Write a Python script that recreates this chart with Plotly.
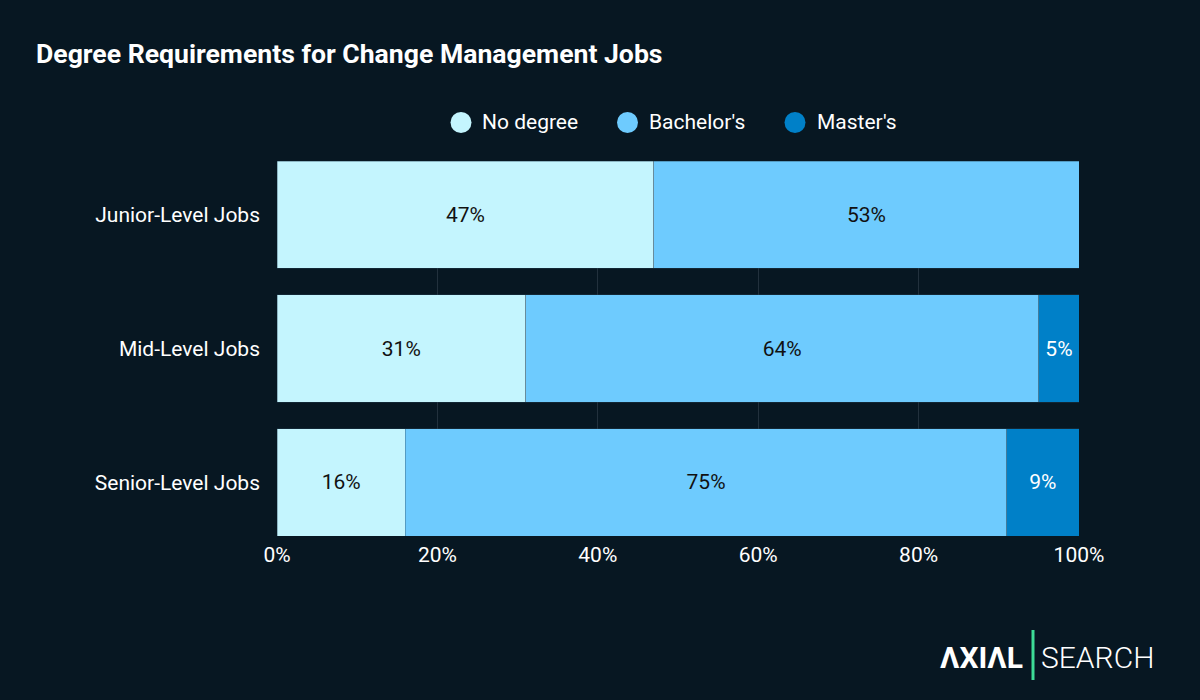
import plotly.graph_objects as go

categories = ["Junior-Level Jobs", "Mid-Level Jobs", "Senior-Level Jobs"]
no_degree = [47, 31, 16]
bachelors = [53, 64, 75]
masters = [0, 5, 9]
series_names = ["No degree", "Bachelor's", "Master's"]
colors = ["#c4f5fe", "#6ecbfe", "#0080c8"]
text_colors = ["#111111", "#111111", "#ffffff"]
tick_vals = [0, 20, 40, 60, 80, 100]
tick_text = ["0%", "20%", "40%", "60%", "80%", "100%"]

BG = "#071722"
FONT = "Roboto"
W, H = 1200, 700
L, R, T, B = 277, 121, 161, 164
PW, PH = W - L - R, H - T - B


def px(x):
    return (x - L) / PW


def py(y):
    return 1 - (y - T) / PH


fig = go.Figure()
for name, vals, col, tcol in zip(series_names, [no_degree, bachelors, masters], colors, text_colors):
    fig.add_trace(go.Bar(
        y=categories, x=vals, orientation="h", name=name,
        marker=dict(color=col, line=dict(width=0.6, color="rgba(40,70,90,0.6)")),
        text=[f"{v}%" if v > 0 else "" for v in vals],
        textposition="inside", insidetextanchor="middle",
        textfont=dict(color=tcol, size=21, family=FONT),
        showlegend=False, hoverinfo="x+name",
    ))

# legend drawn as circles + labels
legend_circle_cx = [461, 627.5, 795]
legend_text_x = [480, 647, 815]
shapes = []
annotations = []
for name, col, cx, tx in zip(series_names, colors, legend_circle_cx, legend_text_x):
    shapes.append(dict(type="circle", xref="paper", yref="paper",
                       x0=px(cx - 10.5), x1=px(cx + 10.5), y0=py(133), y1=py(112),
                       fillcolor=col, line=dict(width=0)))
    annotations.append(dict(text=name, xref="paper", yref="paper", x=px(tx), y=py(122),
                            xanchor="left", yanchor="middle", showarrow=False,
                            font=dict(size=21, family=FONT, color="#ffffff")))

# logo
annotations.append(dict(text="<b>ΛXIΛL</b>", xref="paper", yref="paper", x=px(1025), y=py(657),
                        xanchor="right", yanchor="middle", showarrow=False,
                        font=dict(size=30, family=FONT, color="#ffffff")))
annotations.append(dict(text="SEARCH", xref="paper", yref="paper", x=px(1039), y=py(657),
                        xanchor="left", yanchor="middle", showarrow=False,
                        font=dict(size=30, family=FONT, color="#ffffff", weight=300)))
shapes.append(dict(type="line", xref="paper", yref="paper", x0=px(1033), x1=px(1033),
                   y0=py(630), y1=py(680), line=dict(color="#3ddc97", width=3)))

fig.update_layout(
    width=W, height=H,
    paper_bgcolor=BG, plot_bgcolor=BG,
    barmode="stack", bargap=0.2,
    margin=dict(l=L, r=R, t=T, b=B),
    font=dict(family=FONT, color="#ffffff", size=21),
    showlegend=False,
    title=dict(text="<b>Degree Requirements for Change Management Jobs</b>",
               x=36 / W, xanchor="left", y=1 - 54 / H, yanchor="middle",
               font=dict(size=26.6, family=FONT, color="#ffffff")),
    xaxis=dict(range=[0, 100], tickvals=tick_vals, ticktext=tick_text,
               showgrid=True, gridcolor="#22313d", gridwidth=1,
               zeroline=False, showline=False, ticks="", ticklabelstandoff=4,
               tickfont=dict(size=21, family=FONT, color="#ffffff"), fixedrange=True),
    yaxis=dict(range=[2.4, -0.4], showgrid=False, zeroline=False, showline=False,
               ticks="", ticklabelstandoff=16,
               tickfont=dict(size=21, family=FONT, color="#ffffff"), fixedrange=True),
    annotations=annotations,
    shapes=shapes,
)

fig.write_html("out.html")
